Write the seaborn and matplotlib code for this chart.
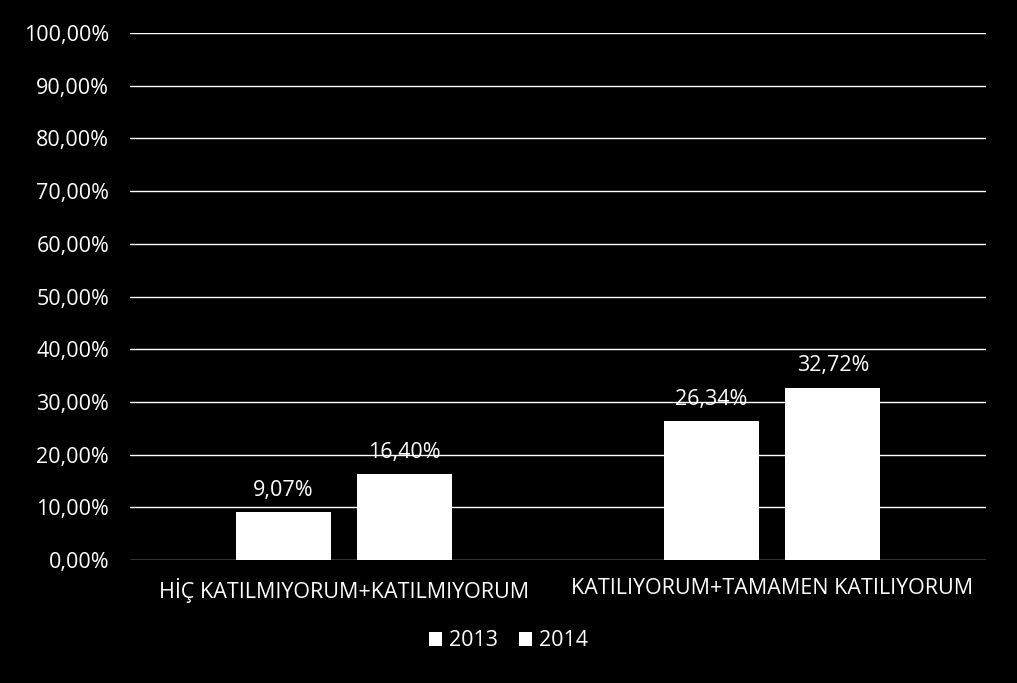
import matplotlib
matplotlib.use("Agg")
import matplotlib.pyplot as plt
import seaborn as sns
import pandas as pd
from matplotlib.ticker import FuncFormatter
from matplotlib.patches import Patch

categories = ["HİÇ KATILMIYORUM+KATILMIYORUM", "KATILIYORUM+TAMAMEN KATILIYORUM"]
years = ["2013", "2014"]
values_2013 = [9.07, 26.34]
values_2014 = [16.40, 32.72]

df = pd.DataFrame({
    "category": categories * 2,
    "year": [years[0]] * 2 + [years[1]] * 2,
    "value": values_2013 + values_2014,
})

sns.set_theme(style="dark")
plt.rcParams['font.family'] = ['Open Sans', 'DejaVu Sans']

fig = plt.figure(figsize=(10.17, 6.83), dpi=100, facecolor="black")
ax = fig.add_axes([0.1278, 0.180, 0.8417, 0.7717])
ax.set_facecolor("black")

sns.barplot(data=df, x="category", y="value", hue="year", order=categories,
            hue_order=years, palette=["white", "white"], width=0.568, gap=0.218,
            saturation=1, ax=ax, legend=False, edgecolor="none")

FS = 15.5
ax.set_ylim(0, 100)
ax.set_yticks(range(0, 101, 10))
ax.yaxis.set_major_formatter(FuncFormatter(lambda v, p: f"{v:.2f}".replace(".", ",") + "%"))
ax.grid(axis="y", color="white", linewidth=1.0)
ax.grid(axis="x", visible=False)
ax.set_axisbelow(True)
for s in ax.spines.values():
    s.set_visible(False)
ax.tick_params(axis="y", colors="white", labelsize=FS, length=0, pad=15)
ax.tick_params(axis="x", colors="white", labelsize=FS, length=0, pad=13)
ax.set_xlabel("")
ax.set_ylabel("")

for cont in ax.containers:
    labels = [f"{b.get_height():.2f}".replace(".", ",") + "%" for b in cont]
    ax.bar_label(cont, labels=labels, color="white", fontsize=FS, padding=8)

handles = [Patch(facecolor="white", edgecolor="none") for _ in years]
leg = fig.legend(handles, years, loc="center", bbox_to_anchor=(0.5, 1 - 641 / 683),
                 ncol=2, frameon=False, fontsize=FS, handlelength=0.6, handleheight=0.6,
                 handletextpad=0.3, columnspacing=1.0)
for t in leg.get_texts():
    t.set_color("white")

fig.savefig("out.png", dpi=100, facecolor="black")
